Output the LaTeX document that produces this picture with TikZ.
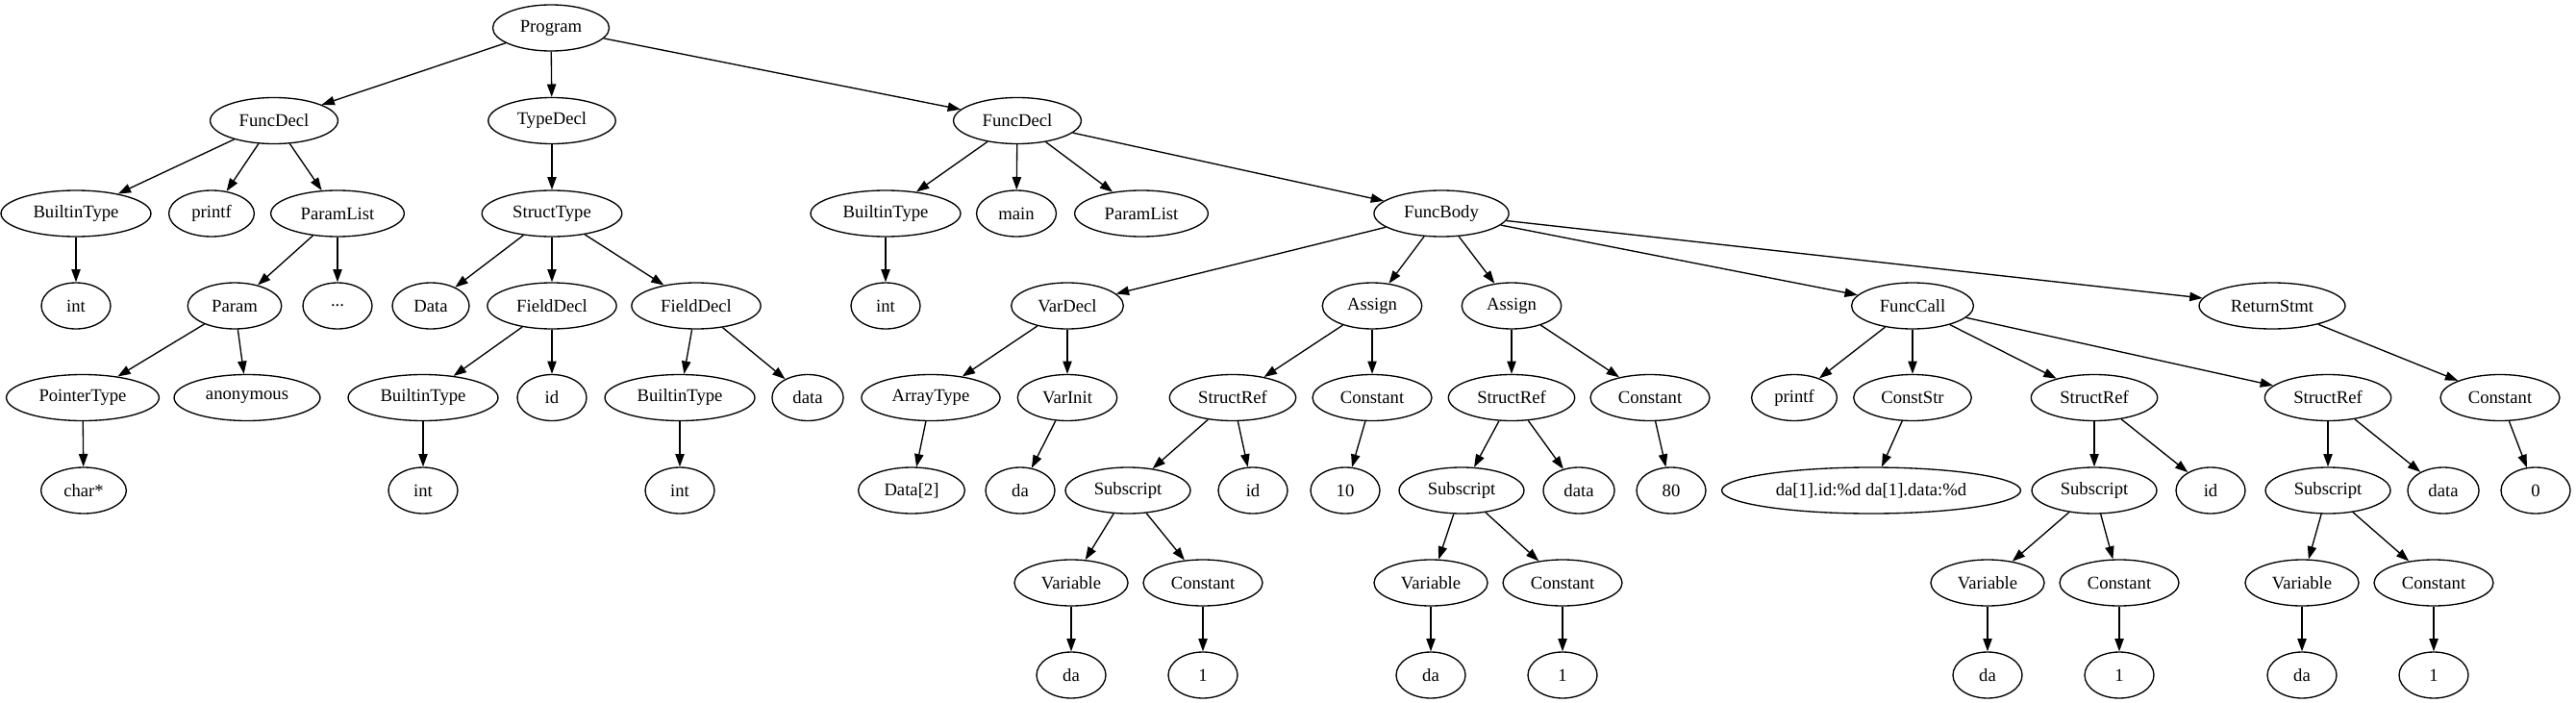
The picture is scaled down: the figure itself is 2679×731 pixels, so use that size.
\documentclass[tikz,border=0pt]{standalone}
\usepackage{fontspec}
\setmainfont{Liberation Serif}
\usetikzlibrary{arrows.meta,shapes.geometric}
\begin{document}
\begin{tikzpicture}[x=0.75pt,y=-0.75pt,
  nd/.style={ellipse, draw, line width=1pt, inner xsep=8pt, inner ysep=4pt,
    minimum width=54pt, minimum height=36pt, font=\fontsize{14}{16.8}\selectfont},
  ed/.style={-{Triangle[length=10pt,width=7pt]}, line width=1pt}]
\useasboundingbox (0,0) rectangle (2679,731);
% level 0
\node[nd] (prog) at (573,29) {Program};
% level 1
\node[nd] (fd1) at (285,125.5) {FuncDecl};
\node[nd] (td) at (574,125.5) {TypeDecl};
\node[nd] (fd2) at (1058,125.5) {FuncDecl};
% level 2
\node[nd] (bt1) at (79,222) {BuiltinType};
\node[nd] (pf1) at (220,222) {printf};
\node[nd] (pl1) at (351,222) {ParamList};
\node[nd] (st) at (574,222) {StructType};
\node[nd] (bt2) at (921,222) {BuiltinType};
\node[nd] (mn) at (1057,222) {main};
\node[nd] (pl2) at (1187,222) {ParamList};
\node[nd] (fb) at (1499,222) {FuncBody};
% level 3
\node[nd] (int1) at (79,318) {int};
\node[nd] (prm) at (244,318) {Param};
\node[nd] (dots) at (351,318) {...};
\node[nd] (dat) at (448,318) {Data};
\node[nd] (fld1) at (574,318) {FieldDecl};
\node[nd] (fld2) at (724,318) {FieldDecl};
\node[nd] (int2) at (921,318) {int};
\node[nd] (vd) at (1110,318) {VarDecl};
\node[nd] (as1) at (1427,318) {Assign};
\node[nd] (as2) at (1572,318) {Assign};
\node[nd] (fc) at (1989,318) {FuncCall};
\node[nd] (rs) at (2363,318) {ReturnStmt};
% level 4
\node[nd] (ptr) at (86,413.5) {PointerType};
\node[nd] (anon) at (257,413.5) {anonymous};
\node[nd] (bt3) at (440,413.5) {BuiltinType};
\node[nd] (id1) at (574,413.5) {id};
\node[nd] (bt4) at (707,413.5) {BuiltinType};
\node[nd] (data1) at (840,413.5) {data};
\node[nd] (at) at (968,413.5) {ArrayType};
\node[nd] (vi) at (1110,413.5) {VarInit};
\node[nd] (sr1) at (1282,413.5) {StructRef};
\node[nd] (c1) at (1427,413.5) {Constant};
\node[nd] (sr2) at (1572,413.5) {StructRef};
\node[nd] (c2) at (1716,413.5) {Constant};
\node[nd] (pf2) at (1866,413.5) {printf};
\node[nd] (cs) at (1989,413.5) {ConstStr};
\node[nd] (sr3) at (2178,413.5) {StructRef};
\node[nd] (sr4) at (2421,413.5) {StructRef};
\node[nd] (c3) at (2600,413.5) {Constant};
% level 5
\node[nd] (chr) at (87,510) {char*};
\node[nd] (int3) at (440,510) {int};
\node[nd] (int4) at (707,510) {int};
\node[nd] (d2) at (948,510) {Data[2]};
\node[nd] (da0) at (1061,510) {da};
\node[nd] (sub1) at (1173,510) {Subscript};
\node[nd] (id2) at (1303,510) {id};
\node[nd] (ten) at (1399,510) {10};
\node[nd] (sub2) at (1520,510) {Subscript};
\node[nd] (data2) at (1642,510) {data};
\node[nd] (eighty) at (1738,510) {80};
\node[nd] (str) at (1946,510) {da[1].id:\%d da[1].data:\%d};
\node[nd] (sub3) at (2178,510) {Subscript};
\node[nd] (id3) at (2299,510) {id};
\node[nd] (sub4) at (2421,510) {Subscript};
\node[nd] (data3) at (2541,510) {data};
\node[nd] (zero) at (2637,510) {0};
% level 6
\node[nd] (var1) at (1114,606) {Variable};
\node[nd] (c4) at (1251,606) {Constant};
\node[nd] (var2) at (1488,606) {Variable};
\node[nd] (c5) at (1625,606) {Constant};
\node[nd] (var3) at (2067,606) {Variable};
\node[nd] (c6) at (2204,606) {Constant};
\node[nd] (var4) at (2394,606) {Variable};
\node[nd] (c7) at (2531,606) {Constant};
% level 7
\node[nd] (da1) at (1114,702) {da};
\node[nd] (one1) at (1251,702) {1};
\node[nd] (da2) at (1488,702) {da};
\node[nd] (one2) at (1625,702) {1};
\node[nd] (da3) at (2067,702) {da};
\node[nd] (one3) at (2204,702) {1};
\node[nd] (da4) at (2394,702) {da};
\node[nd] (one4) at (2531,702) {1};
% edges
\foreach \a/\b in {prog/fd1,prog/td,prog/fd2,
  fd1/bt1,fd1/pf1,fd1/pl1,bt1/int1,pl1/prm,pl1/dots,prm/ptr,prm/anon,ptr/chr,
  td/st,st/dat,st/fld1,st/fld2,fld1/bt3,fld1/id1,bt3/int3,fld2/bt4,fld2/data1,bt4/int4,
  fd2/bt2,fd2/mn,fd2/pl2,fd2/fb,bt2/int2,
  fb/vd,fb/as1,fb/as2,fb/fc,fb/rs,
  vd/at,vd/vi,at/d2,vi/da0,
  as1/sr1,as1/c1,sr1/sub1,sr1/id2,c1/ten,sub1/var1,sub1/c4,var1/da1,c4/one1,
  as2/sr2,as2/c2,sr2/sub2,sr2/data2,c2/eighty,sub2/var2,sub2/c5,var2/da2,c5/one2,
  fc/pf2,fc/cs,fc/sr3,fc/sr4,cs/str,
  sr3/sub3,sr3/id3,sub3/var3,sub3/c6,var3/da3,c6/one3,
  sr4/sub4,sr4/data3,sub4/var4,sub4/c7,var4/da4,c7/one4,
  rs/c3,c3/zero}
  \draw[ed] (\a) -- (\b);
\end{tikzpicture}
\end{document}
